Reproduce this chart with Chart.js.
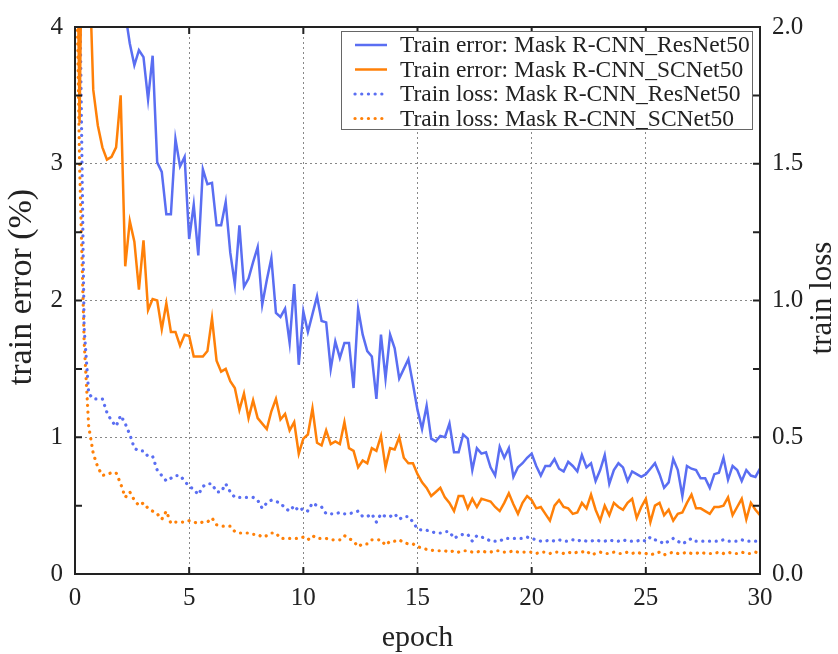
<!DOCTYPE html>
<html>
<head>
<meta charset="utf-8">
<script src="https://cdn.jsdelivr.net/npm/chart.js"></script>
<style>
  html, body { margin: 0; padding: 0; background: #fff; }
  #wrap { width: 838px; height: 654px; }
</style>
</head>
<body>
<div id="wrap"><canvas id="trainChart" width="838" height="654"></canvas></div>
<script>
// epochs sampled every 0.2 (5 logs per epoch)
let epochs = Array.from({length: 151}, (_, i) => Math.round(i * 2) / 10);

// train error (%), left axis
let errResNet = [
  8.0, 7.2, 6.6, 6.2, 5.9, 5.6, 5.3, 5.05, 4.85, 4.6,
  4.4, 4.1, 3.88, 3.72, 3.83, 3.78, 3.47, 3.79, 3.01, 2.94,
  2.63, 2.63, 3.18, 2.98, 3.05, 2.45, 2.70, 2.33, 2.96, 2.85,
  2.86, 2.55, 2.55, 2.72, 2.35, 2.12, 2.55, 2.10, 2.16, 2.28,
  2.39, 1.97, 2.15, 2.31, 1.91, 1.88, 1.94, 1.69, 2.12, 1.53,
  1.92, 1.77, 1.90, 2.03, 1.85, 1.84, 1.50, 1.70, 1.58, 1.69,
  1.69, 1.36, 1.94, 1.75, 1.63, 1.59, 1.28, 1.75, 1.43, 1.75,
  1.65, 1.43, 1.50, 1.57, 1.39, 1.20, 1.06, 1.23, 0.99, 0.97,
  1.01, 1.00, 1.10, 0.89, 0.89, 1.02, 0.99, 0.76, 0.92, 0.88,
  0.89, 0.78, 0.72, 0.93, 0.85, 0.92, 0.71, 0.78, 0.81, 0.85,
  0.88, 0.79, 0.72, 0.79, 0.79, 0.84, 0.77, 0.75, 0.82, 0.79,
  0.75, 0.87, 0.78, 0.81, 0.68, 0.76, 0.87, 0.66, 0.76, 0.81,
  0.78, 0.68, 0.75, 0.73, 0.71, 0.73, 0.77, 0.81, 0.73, 0.63,
  0.67, 0.84, 0.76, 0.57, 0.79, 0.77, 0.76, 0.70, 0.70, 0.63,
  0.73, 0.74, 0.85, 0.69, 0.79, 0.76, 0.68, 0.76, 0.72, 0.71,
  0.77
];
let errSCNet = [
  6.0, 3.3, 6.0, 4.6, 3.54, 3.28, 3.12, 3.03, 3.05, 3.12,
  3.50, 2.25, 2.58, 2.43, 2.08, 2.44, 1.93, 2.01, 2.00, 1.79,
  1.98, 1.77, 1.77, 1.67, 1.75, 1.74, 1.59, 1.59, 1.59, 1.63,
  1.87, 1.56, 1.48, 1.50, 1.41, 1.36, 1.20, 1.32, 1.14, 1.27,
  1.14, 1.10, 1.06, 1.19, 1.28, 1.13, 1.17, 1.05, 1.11, 0.88,
  0.99, 1.02, 1.21, 0.96, 0.94, 1.05, 0.95, 0.97, 0.95, 1.11,
  0.92, 0.90, 0.78, 0.83, 0.81, 0.92, 0.90, 1.01, 0.78, 0.92,
  0.91, 1.00, 0.85, 0.81, 0.81, 0.73, 0.67, 0.63, 0.57, 0.60,
  0.63, 0.56, 0.52, 0.46, 0.57, 0.57, 0.48, 0.55, 0.49, 0.55,
  0.54, 0.53, 0.49, 0.46, 0.52, 0.59, 0.51, 0.44, 0.52, 0.57,
  0.54, 0.48, 0.49, 0.44, 0.39, 0.50, 0.54, 0.49, 0.48, 0.44,
  0.45, 0.52, 0.48, 0.58, 0.47, 0.39, 0.50, 0.43, 0.52, 0.49,
  0.47, 0.52, 0.55, 0.41, 0.49, 0.55, 0.38, 0.50, 0.52, 0.43,
  0.47, 0.39, 0.44, 0.45, 0.52, 0.58, 0.48, 0.48, 0.46, 0.44,
  0.49, 0.49, 0.50, 0.56, 0.43, 0.49, 0.55, 0.40, 0.52, 0.47,
  0.43
];

// train loss, right axis
let lossResNet = [
  3.0, 2.2, 0.90, 0.66, 0.64, 0.64, 0.64, 0.59, 0.56, 0.54,
  0.58, 0.55, 0.51, 0.46, 0.45, 0.45, 0.43, 0.43, 0.38, 0.36,
  0.34, 0.35, 0.36, 0.36, 0.34, 0.32, 0.31, 0.29, 0.32, 0.33,
  0.33, 0.30, 0.30, 0.33, 0.30, 0.28, 0.28, 0.28, 0.28, 0.28,
  0.27, 0.24, 0.26, 0.27, 0.265, 0.26, 0.24, 0.23, 0.25, 0.23,
  0.24, 0.23, 0.26, 0.25, 0.245, 0.22, 0.22, 0.22, 0.225, 0.22,
  0.22, 0.225, 0.23, 0.21, 0.21, 0.22, 0.19, 0.22, 0.21, 0.21,
  0.22, 0.20, 0.21, 0.21, 0.19, 0.165, 0.16, 0.16, 0.155, 0.15,
  0.15, 0.155, 0.155, 0.13, 0.14, 0.145, 0.145, 0.12, 0.14, 0.135,
  0.13, 0.12, 0.12, 0.12, 0.13, 0.13, 0.13, 0.13, 0.13, 0.135,
  0.13, 0.125, 0.12, 0.12, 0.125, 0.12, 0.125, 0.12, 0.12, 0.125,
  0.12, 0.125, 0.12, 0.12, 0.125, 0.12, 0.12, 0.125, 0.12, 0.12,
  0.125, 0.12, 0.12, 0.12, 0.125, 0.12, 0.135, 0.125, 0.12, 0.11,
  0.12, 0.13, 0.12, 0.11, 0.12, 0.13, 0.12, 0.12, 0.12, 0.12,
  0.12, 0.12, 0.125, 0.12, 0.12, 0.12, 0.125, 0.12, 0.12, 0.12,
  0.12
];
let lossSCNet = [
  2.6, 1.5, 0.85, 0.54, 0.44, 0.39, 0.36, 0.365, 0.37, 0.37,
  0.33, 0.28, 0.30, 0.27, 0.25, 0.26, 0.24, 0.23, 0.22, 0.20,
  0.23, 0.185, 0.19, 0.19, 0.19, 0.195, 0.19, 0.185, 0.19, 0.19,
  0.205, 0.18, 0.175, 0.175, 0.175, 0.155, 0.15, 0.15, 0.15, 0.145,
  0.145, 0.135, 0.14, 0.15, 0.15, 0.13, 0.13, 0.13, 0.13, 0.13,
  0.135, 0.125, 0.14, 0.13, 0.13, 0.13, 0.125, 0.125, 0.125, 0.14,
  0.13, 0.12, 0.10, 0.11, 0.11, 0.125, 0.125, 0.125, 0.105, 0.12,
  0.12, 0.125, 0.115, 0.11, 0.11, 0.10, 0.095, 0.09, 0.087, 0.085,
  0.085, 0.085, 0.08, 0.085, 0.08, 0.085, 0.085, 0.08, 0.08, 0.085,
  0.08, 0.08, 0.085, 0.085, 0.08, 0.08, 0.085, 0.08, 0.08, 0.08,
  0.08, 0.075, 0.08, 0.08, 0.075, 0.08, 0.08, 0.075, 0.08, 0.075,
  0.08, 0.08, 0.085, 0.07, 0.075, 0.08, 0.075, 0.075, 0.08, 0.075,
  0.075, 0.08, 0.075, 0.08, 0.075, 0.075, 0.07, 0.075, 0.08, 0.07,
  0.075, 0.08, 0.075, 0.075, 0.08, 0.075, 0.075, 0.08, 0.075, 0.075,
  0.075, 0.08, 0.075, 0.08, 0.075, 0.075, 0.08, 0.075, 0.075, 0.08,
  0.075
];

let seriesLabels = [
  "Train error: Mask R-CNN_ResNet50",
  "Train error: Mask R-CNN_SCNet50",
  "Train loss: Mask R-CNN_ResNet50",
  "Train loss: Mask R-CNN_SCNet50"
];
let xTicks = [0, 5, 10, 15, 20, 25, 30];

const BLUE = "#5a6ef2";
const ORANGE = "#ff8008";
const SERIF = "'Liberation Serif', 'DejaVu Serif', serif";
const INK = "#222";

function pts(ys) {
  return ys.map((y, i) => ({x: epochs[i], y: y}));
}

// frame with inward ticks, y titles (both read bottom-to-top) and the legend box
const framePlugin = {
  id: "frame",
  afterDatasetsDraw(chart) {
    const ctx = chart.ctx;
    const a = chart.chartArea;
    const x = chart.scales.x, yl = chart.scales.y;
    ctx.save();
    ctx.strokeStyle = INK;
    ctx.lineWidth = 2;
    ctx.strokeRect(a.left, a.top, a.right - a.left, a.bottom - a.top);
    ctx.beginPath();
    xTicks.forEach(v => {
      const px = x.getPixelForValue(v);
      ctx.moveTo(px, a.bottom); ctx.lineTo(px, a.bottom - 7);
      ctx.moveTo(px, a.top); ctx.lineTo(px, a.top + 7);
    });
    for (let v = 0; v <= 4; v += 0.5) {
      const py = yl.getPixelForValue(v);
      ctx.moveTo(a.left, py); ctx.lineTo(a.left + 7, py);
      ctx.moveTo(a.right, py); ctx.lineTo(a.right - 7, py);
    }
    ctx.stroke();

    // axis titles
    ctx.fillStyle = INK;
    ctx.textAlign = "center";
    ctx.textBaseline = "middle";
    ctx.font = "34px " + SERIF;
    ctx.save();
    ctx.translate(22, 287);
    ctx.rotate(-Math.PI / 2);
    ctx.fillText("train error (%)", 0, 0);
    ctx.restore();
    ctx.font = "31px " + SERIF;
    ctx.save();
    ctx.translate(823, 298);
    ctx.rotate(-Math.PI / 2);
    ctx.fillText("train loss", 0, 0);
    ctx.restore();

    // legend
    const bx = 341, by = 31, bw = 411, bh = 98;
    ctx.fillStyle = "#fff";
    ctx.fillRect(bx, by, bw, bh);
    ctx.strokeStyle = "#666";
    ctx.lineWidth = 1;
    ctx.strokeRect(bx + 0.5, by + 0.5, bw, bh);
    chart.data.datasets.forEach((ds, i) => {
      const ry = by + 14 + i * 24.5;
      ctx.beginPath();
      ctx.strokeStyle = ds.borderColor;
      ctx.lineWidth = ds.borderWidth;
      ctx.lineCap = ds.borderCapStyle || "butt";
      ctx.setLineDash(ds.borderDash || []);
      ctx.moveTo(355, ry); ctx.lineTo(387, ry);
      ctx.stroke();
      ctx.setLineDash([]);
      ctx.fillStyle = INK;
      ctx.font = "23.5px " + SERIF;
      ctx.textBaseline = "middle";
      ctx.textAlign = "left";
      ctx.fillText(ds.label, 400, ry + 1);
    });
    ctx.restore();
  }
};

function desenhaGrafico() {
  new Chart("trainChart", {
    type: "line",
    data: {
      datasets: [
        {label: seriesLabels[0], data: pts(errResNet), yAxisID: "y",
         borderColor: BLUE, borderWidth: 2.5, pointRadius: 0, tension: 0, clip: 0},
        {label: seriesLabels[1], data: pts(errSCNet), yAxisID: "y",
         borderColor: ORANGE, borderWidth: 2.5, pointRadius: 0, tension: 0, clip: 0},
        {label: seriesLabels[2], data: pts(lossResNet), yAxisID: "y2",
         borderColor: BLUE, borderWidth: 3.2, borderDash: [0.1, 6.6], borderCapStyle: "round",
         pointRadius: 0, tension: 0, clip: 0},
        {label: seriesLabels[3], data: pts(lossSCNet), yAxisID: "y2",
         borderColor: ORANGE, borderWidth: 3.2, borderDash: [0.1, 6.6], borderCapStyle: "round",
         pointRadius: 0, tension: 0, clip: 0}
      ]
    },
    options: {
      responsive: false,
      animation: false,
      devicePixelRatio: 1,
      layout: {padding: {top: 24, left: 0, right: 0, bottom: 0}},
      plugins: {legend: {display: false}, tooltip: {enabled: false}},
      scales: {
        x: {
          type: "linear", min: 0, max: 30,
          afterFit: s => { s.height = 80; },
          afterBuildTicks: s => { s.ticks = xTicks.map(v => ({value: v})); },
          grid: {color: "#888", lineWidth: 1, drawTicks: false},
          border: {display: false, dash: [2, 3]},
          ticks: {color: INK, font: {family: SERIF, size: 25}, padding: 9, maxRotation: 0},
          title: {display: true, text: "epoch", color: INK,
                  font: {family: SERIF, size: 30, lineHeight: 1}, padding: {top: 0, bottom: 1}}
        },
        y: {
          position: "left", min: 0, max: 4,
          afterFit: s => { s.width = 75; },
          grid: {color: "#888", lineWidth: 1, drawTicks: false},
          border: {display: false, dash: [2, 3]},
          ticks: {stepSize: 1, color: INK, font: {family: SERIF, size: 25}, padding: 12}
        },
        y2: {
          position: "right", min: 0, max: 2,
          afterFit: s => { s.width = 78; },
          grid: {display: false, drawTicks: false},
          border: {display: false},
          ticks: {stepSize: 0.5, color: INK, font: {family: SERIF, size: 25}, padding: 12,
                  callback: v => v.toFixed(1)}
        }
      }
    },
    plugins: [framePlugin]
  });
}

desenhaGrafico();
</script>
</body>
</html>
